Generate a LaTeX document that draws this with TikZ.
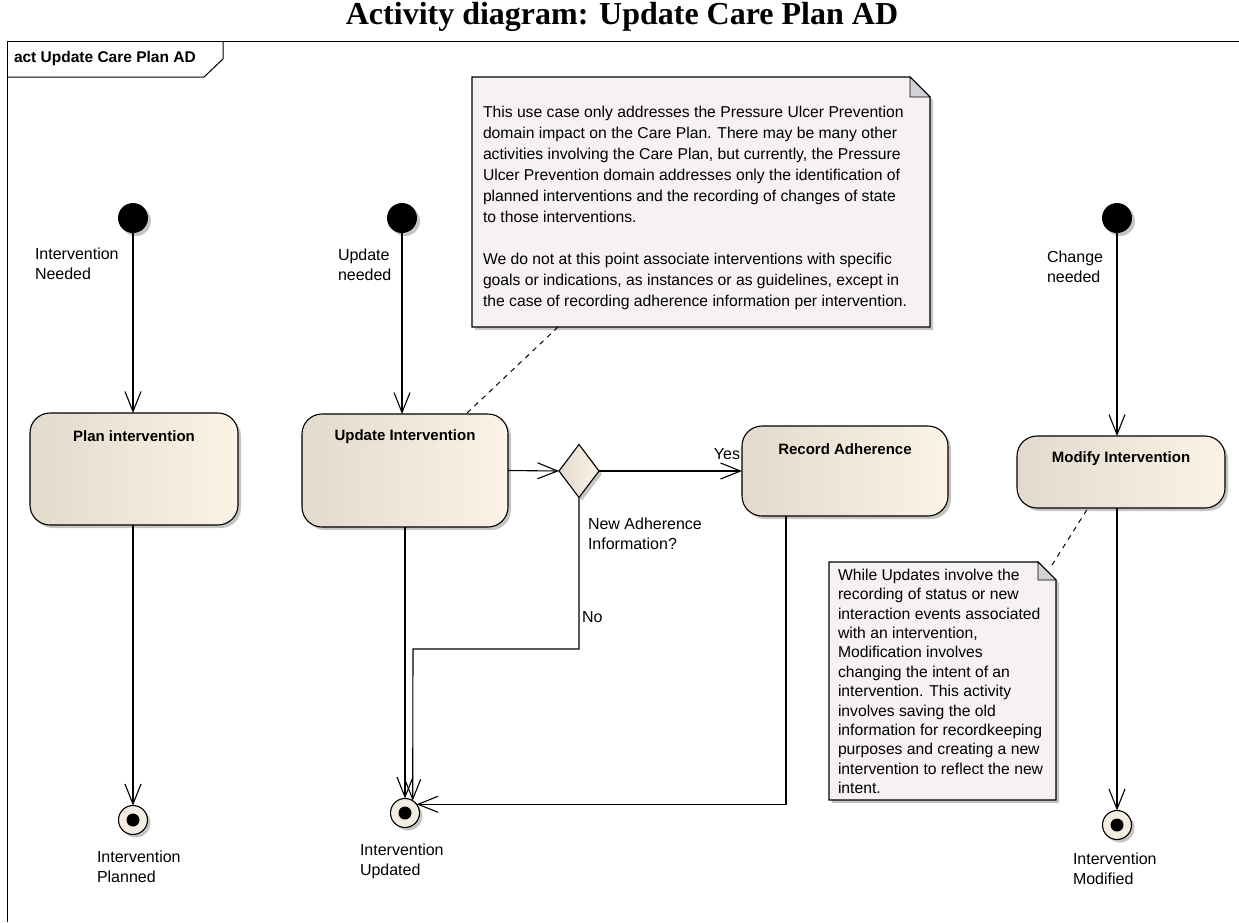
\documentclass[tikz,border=0pt]{standalone}
\usepackage{fontspec}
\setmainfont{Liberation Sans}
\newfontfamily\titlefont{Liberation Serif}
\usetikzlibrary{arrows.meta,shapes.geometric,shadows,calc}
\definecolor{actL}{RGB}{226,218,204}
\definecolor{actR}{RGB}{252,243,230}
\definecolor{notebg}{RGB}{245,241,245}
\definecolor{notecorner}{RGB}{212,209,214}
\definecolor{finalbg}{RGB}{243,236,224}
\begin{document}
\begin{tikzpicture}[x=1pt,y=-1pt, line width=1.1pt,
  every node/.style={inner sep=0pt,outer sep=0pt},
  shd/.style={drop shadow={shadow xshift=3pt,shadow yshift=-3pt,fill=black!50,opacity=0.45}},
  action/.style={draw, line width=1.1pt, rounded corners=20pt, left color=actL, right color=actR, shd},
  actlabel/.style={font=\bfseries\fontsize{15}{18}\selectfont},
  initial/.style={circle, fill=black, minimum size=30pt, shd},
  final/.style={circle, draw, fill=finalbg, minimum size=29pt, line width=1.1pt, shd},
  finaldot/.style={circle, fill=black, minimum size=13pt},
  decision/.style={diamond, draw, line width=1.1pt, minimum width=40pt, minimum height=53pt, left color=actL, right color=actR, shd},
  flow/.style={draw, line width=1.1pt, -{Straight Barb[length=20pt,width=16pt]}},
  lbl/.style={font=\fontsize{16}{20}\selectfont, align=left},
  note/.style={draw, line width=1.1pt, fill=notebg, shd},
  notetext/.style={font=\fontsize{15.7}{21}\selectfont, align=left},
  anchorline/.style={draw, line width=1pt, dash pattern=on 5pt off 5pt}
]
\useasboundingbox[fill=white] (0,0) rectangle (1239,922);

% title
\node[font=\titlefont\bfseries\fontsize{32}{35}\selectfont] (title) at (622,17) {Activity diagram: Update Care Plan AD};

% frame
\draw[line width=1pt] (7,922) -- (7,41) -- (1239,41);
\draw[line width=1pt] (7,77) -- (204,77) -- (223,59) -- (223,41);
\node[font=\bfseries\fontsize{15.5}{18}\selectfont, anchor=west] (tab) at (14,58) {act Update Care Plan AD};

% initial nodes
\node[initial] (init1) at (133,218) {};
\node[initial] (init2) at (402,218) {};
\node[initial] (init3) at (1117,218) {};
\node[lbl, anchor=west] (l1) at (35,264) {Intervention\\Needed};
\node[lbl, anchor=west] (l2) at (338,265) {Update\\needed};
\node[lbl, anchor=west] (l3) at (1047,267) {Change\\needed};

% actions
\node[action, minimum width=208pt, minimum height=112pt] (plan) at (134,469) {};
\node[actlabel] (planL) at ([yshift=-23pt]plan.north) {Plan intervention};
\node[action, minimum width=206pt, minimum height=113pt] (upd) at (405,470.5) {};
\node[actlabel] (updL) at ([yshift=-23pt]upd.north) {Update Intervention};
\node[action, minimum width=206pt, minimum height=90pt] (rec) at (845,471) {};
\node[actlabel] (recL) at ([yshift=-23pt]rec.north) {Record Adherence};
\node[action, minimum width=208pt, minimum height=72pt] (mod) at (1121,472) {};
\node[actlabel] (modL) at ([yshift=-23pt]mod.north) {Modify Intervention};

% decision
\node[decision] (dia) at (579,471) {};
\node[lbl, anchor=west] (ldia) at (588,534) {New Adherence\\Information?};
\node[lbl, anchor=east] (lyes) at (740,454) {Yes};
\node[lbl, anchor=west] (lno) at (582,617) {No};

% final nodes
\node[final] (fin1) at (133,820) {};
\node[finaldot] (fin1d) at (fin1) {};
\node[final] (fin2) at (405,813) {};
\node[finaldot] (fin2d) at (fin2) {};
\node[final] (fin3) at (1117,825) {};
\node[finaldot] (fin3d) at (fin3) {};
\node[lbl, anchor=west] (lf1) at (97,867) {Intervention\\Planned};
\node[lbl, anchor=west] (lf2) at (360,861) {Intervention\\Updated};
\node[lbl, anchor=west] (lf3) at (1073,869) {Intervention\\Modified};

% flows
\draw[flow] (init1) -- (init1 |- plan.north);
\draw[flow] (init2) -- (init2 |- upd.north);
\draw[flow] (init3) -- (init3 |- mod.north);
\draw[flow] (fin1 |- plan.south) -- (fin1.north);
\draw[flow] (upd.south) -- (fin2.north);
\draw[flow] (upd.east) -- (dia.west);
\draw[flow] (dia.east) -- (dia.east -| rec.west);
\coordinate (nk) at (413,649);
\draw[flow] (dia.south) |- (nk) -- (fin2.58);
\draw[flow] ([xshift=-59pt]rec.south) |- (fin2.37);
\draw[flow] (fin3 |- mod.south) -- (fin3.north);

% note 1
\node[minimum width=458pt, minimum height=250pt] (n1) at (701,202) {};
\path[note] (n1.north west) -- ([xshift=-20pt]n1.north east) -- ([yshift=-20pt]n1.north east) -- (n1.south east) -- (n1.south west) -- cycle;
\filldraw[fill=notecorner, line width=0.9pt] ([xshift=-20pt]n1.north east) -- ([yshift=-20pt]n1.north east) -- ([xshift=-20pt,yshift=-20pt]n1.north east) -- cycle;
\node[notetext, anchor=north west] (n1t) at (483,106) {This use case only addresses the Pressure Ulcer Prevention\\domain impact on the Care Plan. There may be many other\\activities involving the Care Plan, but currently, the Pressure\\Ulcer Prevention domain addresses only the identification of\\planned interventions and the recording of changes of state\\to those interventions.\\[21pt]We do not at this point associate interventions with specific\\goals or indications, as instances or as guidelines, except in\\the case of recording adherence information per intervention.};
\draw[anchorline] ([xshift=86pt]n1.south west) -- ([xshift=61pt]upd.north);

% note 2
\node[minimum width=227pt, minimum height=238pt] (n2) at (942.5,681) {};
\path[note] (n2.north west) -- ([xshift=-18pt]n2.north east) -- ([yshift=-18pt]n2.north east) -- (n2.south east) -- (n2.south west) -- cycle;
\filldraw[fill=notecorner, line width=0.9pt] ([xshift=-18pt]n2.north east) -- ([yshift=-18pt]n2.north east) -- ([xshift=-18pt,yshift=-18pt]n2.north east) -- cycle;
\node[notetext, anchor=north west, font=\fontsize{15.7}{19.4}\selectfont] (n2t) at (838,569) {While Updates involve the\\recording of status or new\\interaction events associated\\with an intervention,\\Modification involves\\changing the intent of an\\intervention. This activity\\involves saving the old\\information for recordkeeping\\purposes and creating a new\\intervention to reflect the new\\intent.};
\draw[anchorline] ([xshift=-4pt,yshift=-3pt]n2.north east) -- ([xshift=-33pt]mod.south);
\end{tikzpicture}
\end{document}
